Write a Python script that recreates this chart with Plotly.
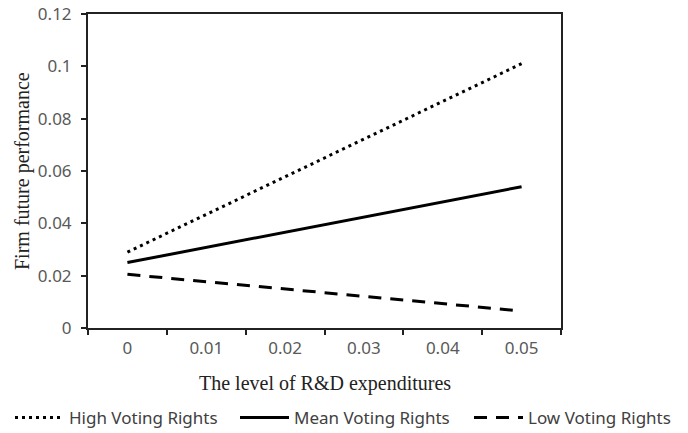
import plotly.graph_objects as go

categories = ["0", "0.01", "0.02", "0.03", "0.04", "0.05"]
x_ends = ["0", "0.05"]
high_vals = [0.029, 0.101]
mean_vals = [0.025, 0.054]
low_vals = [0.0205, 0.0065]
y_ticks = [0, 0.02, 0.04, 0.06, 0.08, 0.1, 0.12]
y_ticklabels = ["0", "0.02", "0.04", "0.06", "0.08", "0.1", "0.12"]
x_title = "The level of R&amp;D expenditures"
y_title = "Firm future performance"

W, H = 680, 425  # page body adds an 8px margin

fig = go.Figure()
fig.add_trace(go.Scatter(x=x_ends, y=high_vals, mode="lines", name="High Voting Rights",
                         legend="legend",
                         line=dict(color="black", width=3, dash="3px,4px")))
fig.add_trace(go.Scatter(x=x_ends, y=mean_vals, mode="lines", name="Mean Voting Rights",
                         legend="legend2",
                         line=dict(color="black", width=3, dash="solid")))
fig.add_trace(go.Scatter(x=x_ends, y=low_vals, mode="lines", name="Low Voting Rights",
                         legend="legend3",
                         line=dict(color="black", width=3, dash="13px,9px")))

leg_font = dict(family="Noto Sans", size=17, color="#404040")
def leg(xpx):
    return dict(orientation="h", xref="container", yref="container",
                x=xpx / W, xanchor="left", y=(H - 410) / H, yanchor="middle",
                font=leg_font, bgcolor="rgba(0,0,0,0)", itemwidth=49)

fig.update_layout(
    width=W, height=H,
    margin=dict(l=80, r=127, t=6, b=105, autoexpand=False),
    paper_bgcolor="white", plot_bgcolor="white",
    showlegend=True,
    legend=leg(2), legend2=leg(227), legend3=leg(461),
    xaxis=dict(type="category", categoryorder="array", categoryarray=categories,
               range=[-0.5, 5.5], tickson="boundaries", ticks="outside", ticklen=5,
               tickcolor="#222", tickwidth=1.5, ticklabelstandoff=4,
               ticklabeloverflow="allow",
               showline=True, linecolor="#222", linewidth=2, mirror=True, showgrid=False,
               tickfont=dict(family="Noto Sans", size=17, color="#595959")),
    yaxis=dict(range=[0, 0.12], tickvals=y_ticks, ticktext=y_ticklabels,
               ticks="outside", ticklen=5, tickcolor="#222", tickwidth=1.5,
               ticklabelstandoff=6, ticklabeloverflow="allow",
               showline=True, linecolor="#222", linewidth=2, mirror=True, showgrid=False,
               zeroline=False,
               tickfont=dict(family="Noto Sans", size=17, color="#595959")),
    annotations=[
        dict(text=x_title, xref="paper", yref="paper", x=0.5, y=-0.178,
             xanchor="center", yanchor="middle", showarrow=False,
             font=dict(family="Liberation Serif", size=20, color="#222")),
        dict(text=y_title, xref="paper", yref="paper", x=-0.1395, y=0.5,
             xanchor="center", yanchor="middle", showarrow=False, textangle=-90,
             font=dict(family="Liberation Serif", size=20, color="#222")),
    ],
)

fig.write_html("out.html")
